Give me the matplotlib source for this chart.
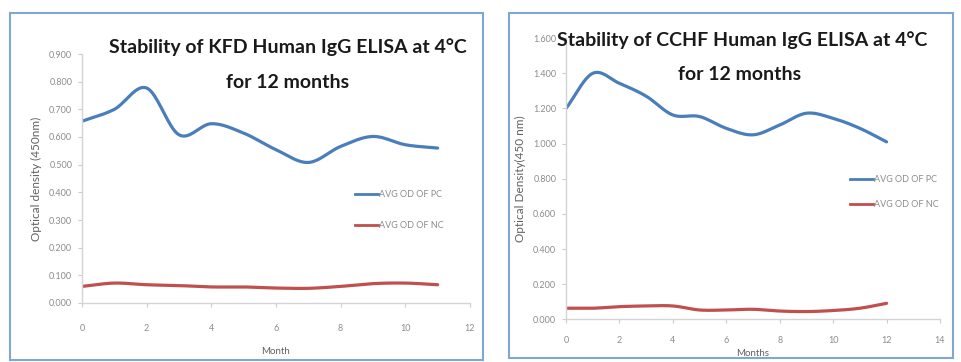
import numpy as np
import matplotlib
matplotlib.use("Agg")
import matplotlib.pyplot as plt
from matplotlib.patches import Rectangle
from matplotlib.lines import Line2D

plt.rcParams['font.family'] = ['Lato', 'DejaVu Sans']

#%% data
kfd_months = [0, 1, 2, 3, 4, 5, 6, 7, 8, 9, 10, 11]
kfd_pc = [0.657, 0.700, 0.777, 0.608, 0.648, 0.614, 0.554, 0.508, 0.566, 0.602, 0.572, 0.560]
kfd_nc = [0.060, 0.072, 0.066, 0.063, 0.058, 0.058, 0.054, 0.053, 0.060, 0.070, 0.072, 0.066]

cchf_months = [0, 1, 2, 3, 4, 5, 6, 7, 8, 9, 10, 11, 12]
cchf_pc = [1.200, 1.400, 1.343, 1.270, 1.163, 1.154, 1.087, 1.050, 1.106, 1.173, 1.144, 1.087, 1.010]
cchf_nc = [0.063, 0.063, 0.072, 0.076, 0.076, 0.053, 0.053, 0.057, 0.047, 0.044, 0.050, 0.063, 0.091]

legend_labels = ["AVG OD OF PC", "AVG OD OF NC"]

BLUE = "#4a7ebb"
RED = "#c0504d"
GREY = "#8c8c8c"
BOX = "#7ea6d6"


def smooth(x, y, n=20):
    # excel style smoothed line (catmull-rom through the points)
    x = np.asarray(x, float)
    y = np.asarray(y, float)
    px = np.concatenate([[2 * x[0] - x[1]], x, [2 * x[-1] - x[-2]]])
    py = np.concatenate([[2 * y[0] - y[1]], y, [2 * y[-1] - y[-2]]])
    t = np.linspace(0, 1, n, endpoint=False)
    xs, ys = [], []
    for i in range(1, len(px) - 2):
        for p, out in ((px, xs), (py, ys)):
            p0, p1, p2, p3 = p[i - 1], p[i], p[i + 1], p[i + 2]
            out.extend(0.5 * (2 * p1 + (-p0 + p2) * t
                              + (2 * p0 - 5 * p1 + 4 * p2 - p3) * t ** 2
                              + (-p0 + 3 * p1 - 3 * p2 + p3) * t ** 3))
    xs.append(x[-1])
    ys.append(y[-1])
    return np.array(xs), np.array(ys)


def style(ax, xmax, ymax, ystep, ylabel, xlabel, xpad, xlpad):
    ax.set_xlim(0, xmax)
    ax.set_ylim(0, ymax)
    ax.set_xticks(np.arange(0, xmax + 1, 2))
    ax.set_yticks(np.arange(0, ymax + ystep / 2, ystep))
    ax.yaxis.set_major_formatter(matplotlib.ticker.FormatStrFormatter('%.3f'))
    for s in ['top', 'right']:
        ax.spines[s].set_visible(False)
    for s in ['left', 'bottom']:
        ax.spines[s].set_color("#d4d4d4")
        ax.spines[s].set_linewidth(1.0)
    ax.tick_params(colors="#cccccc", labelcolor=GREY, labelsize=6.5, length=3, width=0.8)
    ax.tick_params(axis='y', pad=4)
    ax.tick_params(axis='x', pad=xpad)
    ax.set_ylabel(ylabel, fontsize=8.5, color="#606060", labelpad=5)
    ax.set_xlabel(xlabel, fontsize=7, color="#606060", labelpad=xlpad)
    ax.patch.set_alpha(0)


fig = plt.figure(figsize=(9.61, 3.62), dpi=100)

# panel frames
fig.patches.append(Rectangle((10 / 961, 1 - 360 / 362), 473 / 961, 347 / 362,
                             transform=fig.transFigure, fill=False, ec=BOX, lw=1.5))
fig.patches.append(Rectangle((509 / 961, 1 - 358 / 362), 444 / 961, 345 / 362,
                             transform=fig.transFigure, fill=False, ec=BOX, lw=1.5))

#%% KFD panel
ax1 = fig.add_axes([82 / 961, 59 / 362, 388 / 961, 249 / 362])
ax1.plot(*smooth(kfd_months, kfd_pc), color=BLUE, lw=2.3, solid_capstyle='round')
ax1.plot(*smooth(kfd_months, kfd_nc), color=RED, lw=2.3, solid_capstyle='round')
style(ax1, 12, 0.9, 0.1, "Optical density (450nm)", "Month", 12, 10)

#%% CCHF panel
ax2 = fig.add_axes([566 / 961, 42.7 / 362, 374 / 961, 281.1 / 362])
ax2.plot(*smooth(cchf_months, cchf_pc), color=BLUE, lw=2.3, solid_capstyle='round')
ax2.plot(*smooth(cchf_months, cchf_nc), color=RED, lw=2.3, solid_capstyle='round')
style(ax2, 14, 1.6, 0.2, "Optical Density(450 nm)", "Months", 9, 3)

handles = [Line2D([], [], color=BLUE, lw=2), Line2D([], [], color=RED, lw=2)]
for ax, (lx, ly), gap in ((ax1, (355, 190), 2.4), (ax2, (850, 175), 1.8)):
    ax.legend(handles, legend_labels, loc='upper left',
              bbox_to_anchor=(lx / 961, 1 - ly / 362), bbox_transform=fig.transFigure,
              frameon=False, borderpad=0, borderaxespad=0,
              fontsize=6.5, labelcolor=GREY, handlelength=2.6, handletextpad=0.05,
              labelspacing=gap)

#%% titles
tkw = dict(ha='center', va='center', fontsize=14, fontweight='bold', color="#1a1a1a")
fig.text(0.2997, 0.870, "Stability of KFD Human IgG ELISA at 4°C", **tkw)
fig.text(0.2997, 0.773, "for 12 months", **tkw)
fig.text(0.772, 0.890, "Stability of CCHF Human IgG ELISA at 4°C", **tkw)
fig.text(0.770, 0.793, "for 12 months", **tkw)

fig.savefig("out.png", dpi=100)
